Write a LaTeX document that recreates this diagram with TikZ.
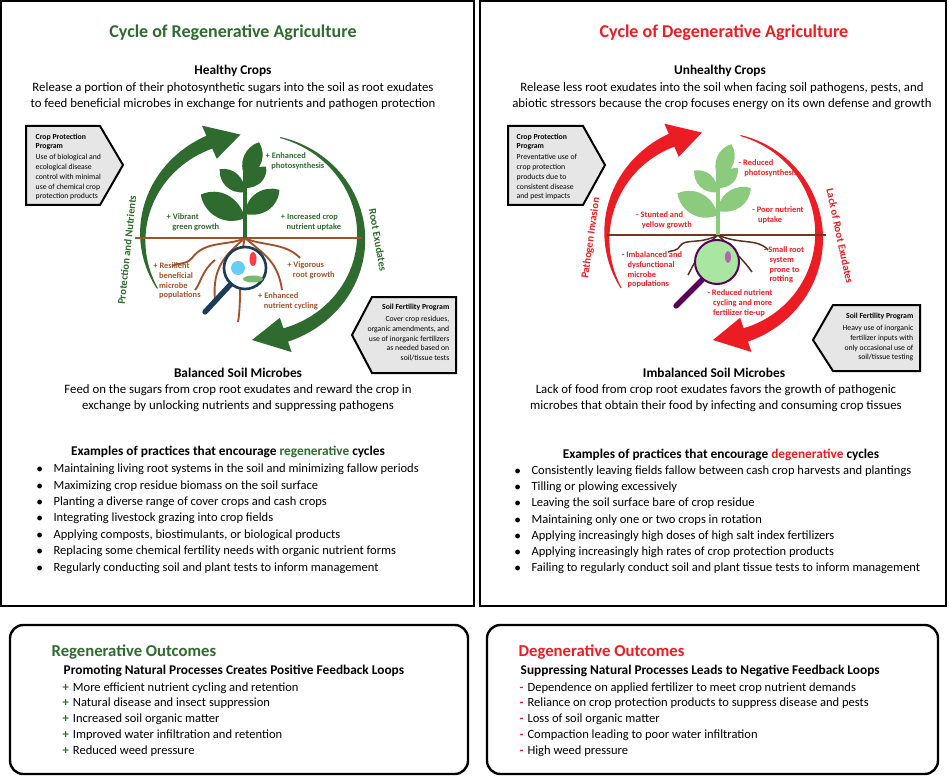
\documentclass[tikz,border=0pt]{standalone}
\usepackage{fontspec}
\setmainfont{Carlito}
\usetikzlibrary{calc}
\definecolor{dg}{HTML}{2F6B2F}
\definecolor{lg}{HTML}{8CCB7E}
\definecolor{rd}{HTML}{EC1C24}
\definecolor{br}{HTML}{A0522D}
\definecolor{dbr}{HTML}{5A2E1A}
\definecolor{gb}{HTML}{E6E6E6}
\definecolor{nv}{HTML}{1C3D5A}
\newcommand\cycarrow[7]{%
 \fill[#7] plot[domain=#4:#5,samples=50] ({\x}:{#3+0.5+6.5*(\x-#4)/(#5-#4)}) -- (#5:#3+18) -- (#6:#3) -- (#5:#3-18)
   -- plot[domain=#5:#4,samples=50] ({\x}:{#3-0.5-6.5*(\x-#4)/(#5-#4)}) -- cycle;}
\newcommand\leaf[5]{\begin{scope}[shift={(#1,#2)},rotate=#3]
 \fill[#5] (0,0) .. controls (#4*0.3,-#4*0.38) and (#4*0.8,-#4*0.28) .. (#4,0) .. controls (#4*0.75,#4*0.32) and (#4*0.3,#4*0.32) .. (0,0);
 \end{scope}}
\tikzset{
 panel/.style={draw=black,line width=1.6pt},
 obox/.style={draw=black,line width=1.8pt,rounded corners=10pt},
 call/.style={fill=gb,draw=black,line width=1.5pt},
 ttl/.style={font=\fontsize{13.5}{15}\selectfont\bfseries},
 ottl/.style={font=\fontsize{12.5}{14}\selectfont\bfseries},
 sub/.style={font=\fontsize{10}{12}\selectfont\bfseries},
 body/.style={font=\fontsize{9.6}{12.4}\selectfont,align=center},
 lbl/.style={font=\fontsize{6.3}{7.3}\selectfont\bfseries,align=left},
 cbt/.style={font=\fontsize{5.8}{7.3}\selectfont},
 arcl/.style={font=\fontsize{8}{10}\selectfont\bfseries},
 bl/.style={font=\fontsize{9.4}{11}\selectfont,anchor=west},
}
\begin{document}
\begin{tikzpicture}[x=0.75pt,y=-0.75pt]
\useasboundingbox (0,0) rectangle (949,777);
\fill[white] (0,0) rectangle (949,777);
\draw[panel] (1,1) rectangle (474,606);
\draw[panel] (480,1) rectangle (946,606);
\draw[obox] (10,625) rectangle (468,774);
\draw[obox] (487,625) rectangle (938,774);

% ===== LEFT PANEL =====
\node[ttl,text=dg] (lt) at (233,33) {Cycle of Regenerative Agriculture};
\node[sub] (lhc) at (233,71) {Healthy Crops};
\node[body] (lhct) at (233,96) {Release a portion of their photosynthetic sugars into the soil as root exudates\\to feed beneficial microbes in exchange for nutrients and pathogen protection};
\begin{scope}[shift={(252,237)},xscale=1.06]
 \cycarrow{0}{0}{103}{150}{247}{264}{dg}
 \cycarrow{0}{0}{103}{285}{432}{450}{dg}
\end{scope}
\node[arcl,text=dg,rotate=84] (lpn) at (127,250) {Protection and Nutrients};
\node[arcl,text=dg,rotate=-80] (lre) at (378,240) {Root Exudates};
\draw[br,line width=1pt] (135,238) -- (362,238);
% roots
\begin{scope}[br,line width=1.4pt]
 \draw (245,238) .. controls (230,246) and (205,240) .. (192,258) .. controls (185,266) and (178,262) .. (172,266);
 \draw (245,238) .. controls (225,255) and (212,268) .. (215,300);
 \draw (245,238) .. controls (260,246) and (285,242) .. (300,258);
 \draw (245,238) .. controls (265,255) and (278,262) .. (282,290);
 \draw (245,238) .. controls (238,262) and (242,300) .. (238,322);
 \draw (215,260) .. controls (202,270) and (200,285) .. (195,290);
\end{scope}
% plant
\draw[dg,line width=3.5pt] (245,238) -- (245,172);
\leaf{245}{218}{152}{50}{dg}
\leaf{245}{214}{35}{42}{dg}
\leaf{245}{192}{138}{34}{dg}
\leaf{245}{188}{45}{30}{dg}
\leaf{246}{178}{70}{38}{dg}
% magnifier
\draw[draw=nv,line width=4pt,line cap=round] (230,285) -- (205,312);
\draw[draw=nv,fill=white,line width=2pt] (245,268) circle (21);
\fill[cyan!60] (238,268) circle (7);
\fill[red!75] (253,259) ellipse (3.5 and 7);
\fill[lg!80!dg] (253,279) ellipse (10 and 3.5);
\node[lbl,text=dg] (l1) at (295,161) {+ Enhanced\\\ \ \ photosynthesis};
\node[lbl,text=dg] (l2) at (193,222) {+ Vibrant\\\ \ \ green growth};
\node[lbl,text=dg] (l3) at (311,222) {+ Increased crop\\\ \ \ nutrient uptake};
\node[lbl,text=br] (l4) at (177,281) {+ Resilient\\\ \ \ beneficial\\\ \ \ microbe\\\ \ \ populations};
\node[lbl,text=br] (l5) at (311,270) {+ Vigorous\\\ \ \ root growth};
\node[lbl,text=br] (l6) at (288,301) {+ Enhanced\\\ \ \ nutrient cycling};
% callouts
\draw[call] (26,126) -- (100,126) -- (123,165) -- (100,205) -- (26,205) -- cycle;
\node[cbt,anchor=north west,align=left] (lcp) at (31,129) {\textbf{Crop Protection}\\\textbf{Program}\\[1pt]Use of biological and\\ecological disease\\control with minimal\\use of chemical crop\\protection products};
\draw[call] (352,335) -- (372,297) -- (456,297) -- (456,373) -- (372,373) -- cycle;
\node[cbt,anchor=north east,align=right] (lsf) at (454,299) {\textbf{Soil Fertility Program}\\[2pt]Cover crop residues,\\organic amendments, and\\use of inorganic fertilizers\\as needed based on\\soil/tissue tests};
\node[sub] (lbm) at (238,373) {Balanced Soil Microbes};
\node[body] (lbmt) at (238,398) {Feed on the sugars from crop root exudates and reward the crop in\\exchange by unlocking nutrients and suppressing pathogens};
\node[sub] (lex) at (228,452) {Examples of practices that encourage \textcolor{dg}{regenerative} cycles};
\foreach \t [count=\i] in {Maintaining living root systems in the soil and minimizing fallow periods,Maximizing crop residue biomass on the soil surface,Planting a diverse range of cover crops and cash crops,Integrating livestock grazing into crop fields,{Applying composts, biostimulants, or biological products},Replacing some chemical fertility needs with organic nutrient forms,Regularly conducting soil and plant tests to inform management}
 \node[bl] (lb\i) at (32,453+16.4*\i) {$\bullet$\hspace{8pt}\t};

% ===== RIGHT PANEL =====
\node[ttl,text=rd] (rt) at (724,33) {Cycle of Degenerative Agriculture};
\node[sub] (rhc) at (720,71) {Unhealthy Crops};
\node[body] (rhct) at (722,96) {Release less root exudates into the soil when facing soil pathogens, pests, and\\abiotic stressors because the crop focuses energy on its own defense and growth};
\begin{scope}[shift={(713,236)},xscale=1.02]
 \cycarrow{0}{0}{104}{150}{247}{264}{rd}
 \cycarrow{0}{0}{104}{285}{432}{450}{rd}
\end{scope}
\node[arcl,text=rd,rotate=82] (rpi) at (591,238) {Pathogen Invasion};
\node[arcl,text=rd,rotate=-78] (rre) at (840,236) {Lack of Root Exudates};
\draw[dbr!70!br,line width=1pt] (607,235) -- (826,235);
\begin{scope}[dbr,line width=1.1pt]
 \draw (718,235) .. controls (700,245) and (685,238) .. (680,246) .. controls (676,252) and (672,250) .. (668,252);
 \draw (718,235) .. controls (740,245) and (758,238) .. (768,250);
 \draw (718,235) .. controls (700,250) and (695,262) .. (688,275);
 \draw (718,235) .. controls (735,252) and (745,262) .. (752,272);
\end{scope}
\draw[lg,line width=3.5pt] (718,235) -- (718,172);
\leaf{718}{215}{152}{46}{lg}
\leaf{718}{211}{35}{40}{lg}
\leaf{718}{192}{138}{32}{lg}
\leaf{718}{188}{45}{28}{lg}
\leaf{719}{178}{70}{36}{lg}
\draw[draw=violet!70!black,line width=4pt,line cap=round] (702,280) -- (676,306);
\draw[draw=violet!70!black,fill=green!20!lg!60!white,line width=1.5pt] (717,262) circle (22);
\fill[violet!60] (728,257) ellipse (3 and 6);
\node[lbl,text=rd] (r1) at (768,168) {- Reduced\\\ \ \ photosynthesis};
\node[lbl,text=rd] (r2) at (664,220) {- Stunted and\\\ \ \ yellow growth};
\node[lbl,text=rd] (r3) at (778,215) {- Poor nutrient\\\ \ \ uptake};
\node[lbl,text=rd] (r4) at (652,270) {- Imbalanced and\\\ \ \ dysfunctional\\\ \ \ microbe\\\ \ \ populations};
\node[lbl,text=rd] (r5) at (784,265) {- Small root\\\ \ \ system\\\ \ \ prone to\\\ \ \ rotting};
\node[lbl,text=rd] (r6) at (740,303) {- Reduced nutrient\\\ \ \ cycling and more\\\ \ \ fertilizer tie-up};
\draw[call] (508,126) -- (583,126) -- (605,165) -- (583,205) -- (508,205) -- cycle;
\node[cbt,anchor=north west,align=left] (rcp) at (512,129) {\textbf{Crop Protection}\\\textbf{Program}\\[1pt]Preventative use of\\crop protection\\products due to\\consistent disease\\and pest impacts};
\draw[call] (813,340) -- (833,305) -- (920,305) -- (920,371) -- (833,371) -- cycle;
\node[cbt,anchor=north east,align=right] (rsf) at (918,308) {\textbf{Soil Fertility Program}\\[2pt]Heavy use of inorganic\\fertilizer inputs with\\only occasional use of\\soil/tissue testing};
\node[sub] (rbm) at (714,373) {Imbalanced Soil Microbes};
\node[body] (rbmt) at (716,398) {Lack of food from crop root exudates favors the growth of pathogenic\\microbes that obtain their food by infecting and consuming crop tissues};
\node[sub] (rex) at (721,455) {Examples of practices that encourage \textcolor{rd}{degenerative} cycles};
\foreach \t [count=\i] in {Consistently leaving fields fallow between cash crop harvests and plantings,Tilling or plowing excessively,Leaving the soil surface bare of crop residue,Maintaining only one or two crops in rotation,Applying increasingly high doses of high salt index fertilizers,Applying increasingly high rates of crop protection products,Failing to regularly conduct soil and plant tissue tests to inform management}
 \node[bl] (rb\i) at (510,455+16.2*\i) {$\bullet$\hspace{8pt}\t};

% ===== OUTCOMES =====
\node[ottl,text=dg,anchor=west] (lo) at (47,652) {Regenerative Outcomes};
\node[sub,anchor=west] (lop) at (59,671) {Promoting Natural Processes Creates Positive Feedback Loops};
\foreach \t [count=\i] in {More efficient nutrient cycling and retention,Natural disease and insect suppression,Increased soil organic matter,Improved water infiltration and retention,Reduced weed pressure}
 \node[bl] (lo\i) at (58,672+15.8*\i) {\textcolor{dg}{\textbf{+}}\hspace{3pt}\t};
\node[ottl,text=rd,anchor=west] (ro) at (514,652) {Degenerative Outcomes};
\node[sub,anchor=west] (rop) at (516,671) {Suppressing Natural Processes Leads to Negative Feedback Loops};
\foreach \t [count=\i] in {Dependence on applied fertilizer to meet crop nutrient demands,Reliance on crop protection products to suppress disease and pests,Loss of soil organic matter,Compaction leading to poor water infiltration,High weed pressure}
 \node[bl] (ro\i) at (515,672+15.8*\i) {\textcolor{rd}{\textbf{-}}\hspace{3pt}\t};
\end{tikzpicture}
\end{document}
